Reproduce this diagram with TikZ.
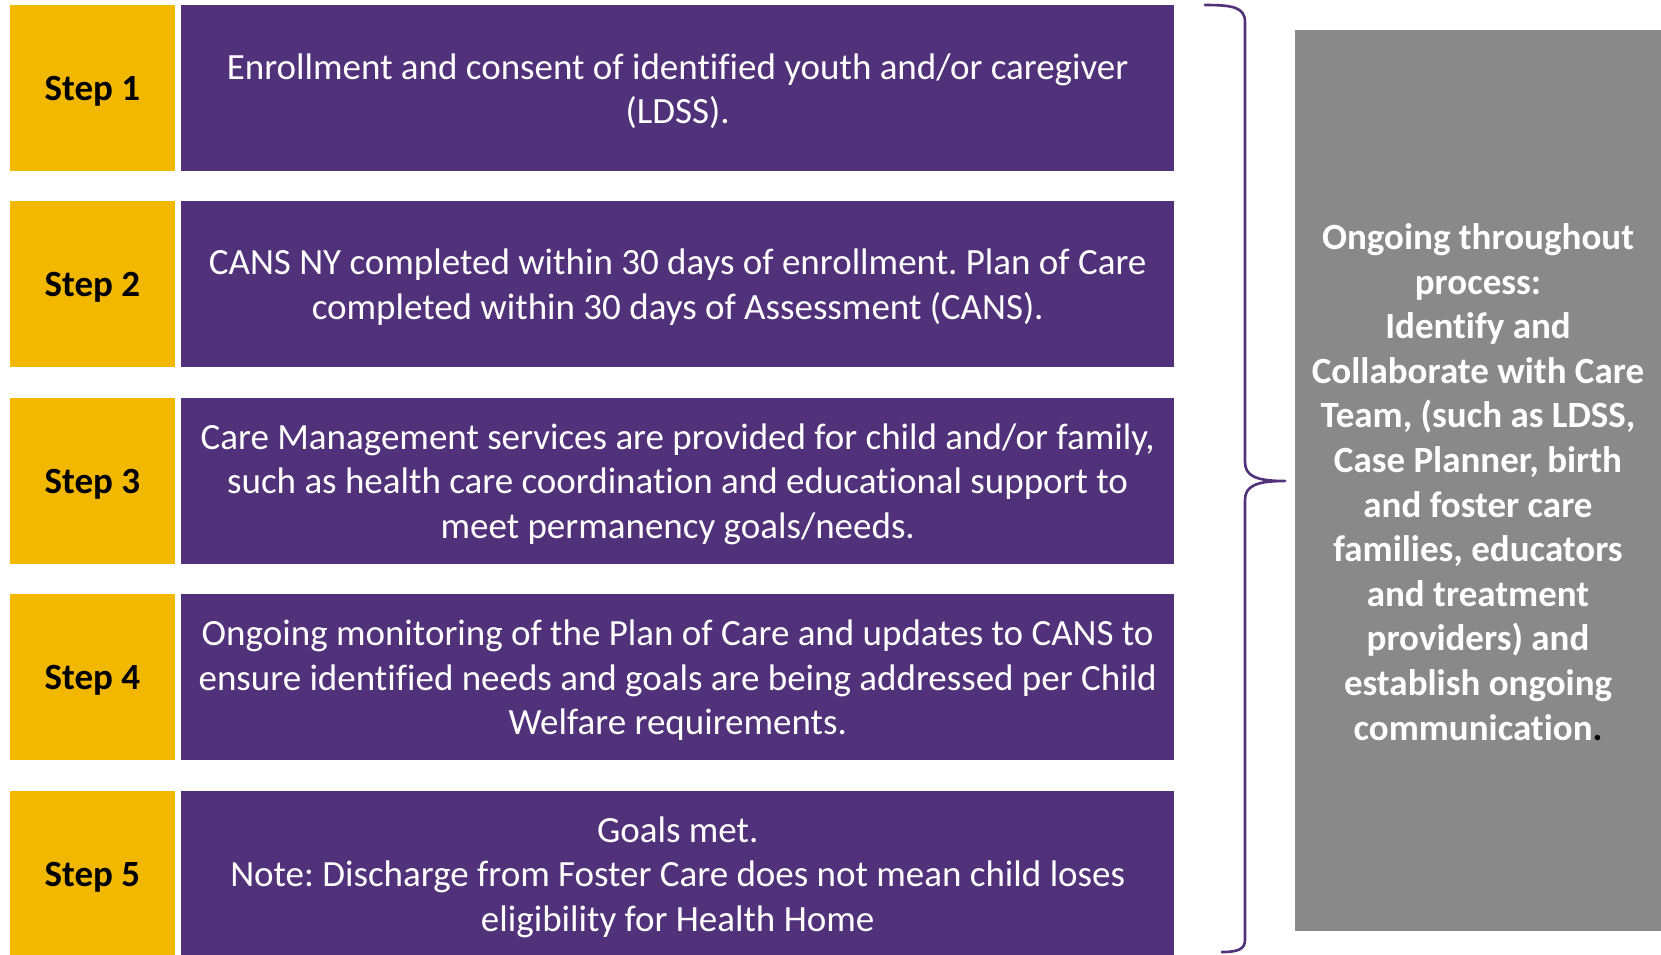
\documentclass[tikz,border=0pt]{standalone}
\usepackage{fontspec}
\setmainfont{Carlito}[Ligatures=NoCommon]
\frenchspacing
\definecolor{stepyellow}{RGB}{242,184,0}
\definecolor{steppurple}{RGB}{81,50,122}
\definecolor{ongray}{RGB}{137,137,137}
\begin{document}
\begin{tikzpicture}[x=1pt,y=-1pt,
  stepbox/.style={fill=stepyellow, draw=none, minimum width=165.5pt, minimum height=166pt,
    inner sep=0pt, anchor=north west},
  steptext/.style={font=\fontsize{37}{44.5}\selectfont\bfseries, text=black, inner sep=0pt},
  descbox/.style={fill=steppurple, draw=none, minimum width=993pt, minimum height=166pt,
    inner sep=0pt, anchor=north west},
  desctext/.style={font=\fontsize{37}{44.5}\selectfont, text=white, align=center, inner sep=0pt},
  graybox/.style={fill=ongray, draw=none, minimum width=380pt, minimum height=901pt,
    inner sep=0pt, anchor=north west},
  graytext/.style={font=\fontsize{37}{44.6}\selectfont\bfseries, text=white, align=center, inner sep=0pt},
  bracestyle/.style={draw=steppurple, line width=2.6pt, line cap=round, line join=round}]
\useasboundingbox (0,0) rectangle (1661,954);
\clip (0,0) rectangle (1661,954);

\node[stepbox] (s1) at (9.5,5) {};
\node[stepbox] (s2) at (9.5,201) {};
\node[stepbox] (s3) at (9.5,398) {};
\node[stepbox] (s4) at (9.5,594) {};
\node[stepbox] (s5) at (9.5,791) {};
\node[steptext] (s1t) at ([yshift=-3pt]s1.center) {Step 1};
\node[steptext] (s2t) at ([yshift=-3pt]s2.center) {Step 2};
\node[steptext] (s3t) at ([yshift=-3pt]s3.center) {Step 3};
\node[steptext] (s4t) at ([yshift=-3pt]s4.center) {Step 4};
\node[steptext] (s5t) at ([yshift=-3pt]s5.center) {Step 5};

\node[descbox] (d1) at (181,5) {};
\node[descbox] (d2) at (181,201) {};
\node[descbox] (d3) at (181,398) {};
\node[descbox] (d4) at (181,594) {};
\node[descbox] (d5) at (181,791) {};
\node[desctext] (d1t) at ([yshift=-3pt]d1.center) {Enrollment and consent of identified youth and/or caregiver\\(LDSS).};
\node[desctext] (d2t) at ([yshift=-3pt]d2.center) {CANS NY completed within 30 days of enrollment. Plan of Care\\completed within 30 days of Assessment (CANS).};
\node[desctext] (d3t) at ([yshift=-3pt]d3.center) {Care Management services are provided for child and/or family,\\such as health care coordination and educational support to\\meet permanency goals/needs.};
\node[desctext] (d4t) at ([yshift=-3pt]d4.center) {Ongoing monitoring of the Plan of Care and updates to CANS to\\ensure identified needs and goals are being addressed per Child\\Welfare requirements.};
\node[desctext] (d5t) at ([yshift=-3pt]d5.center) {Goals met.\\Note: Discharge from Foster Care does not mean child loses\\eligibility for Health Home};

\node[graybox] (g) at (1295,30) {};
\node[graytext] (gt) at (1478,482) {Ongoing throughout\\process:\\Identify and\\Collaborate with Care\\Team, (such as LDSS,\\Case Planner, birth\\and foster care\\families, educators\\and treatment\\providers) and\\establish ongoing\\communication{\color{black}.}};

\coordinate (btop) at (1205,5);
\coordinate (btip) at (1285,481);
\coordinate (bbot) at (1222,952);
\draw[bracestyle] (btop) .. controls (1232,5) and (1245,7) .. (1245,22)
  -- (1245,462) .. controls (1245,476) and (1256,481) .. (btip)
  .. controls (1256,481) and (1245,486) .. (1245,500)
  -- (1245,940) .. controls (1245,949) and (1238,952) .. (bbot);
\end{tikzpicture}
\end{document}
